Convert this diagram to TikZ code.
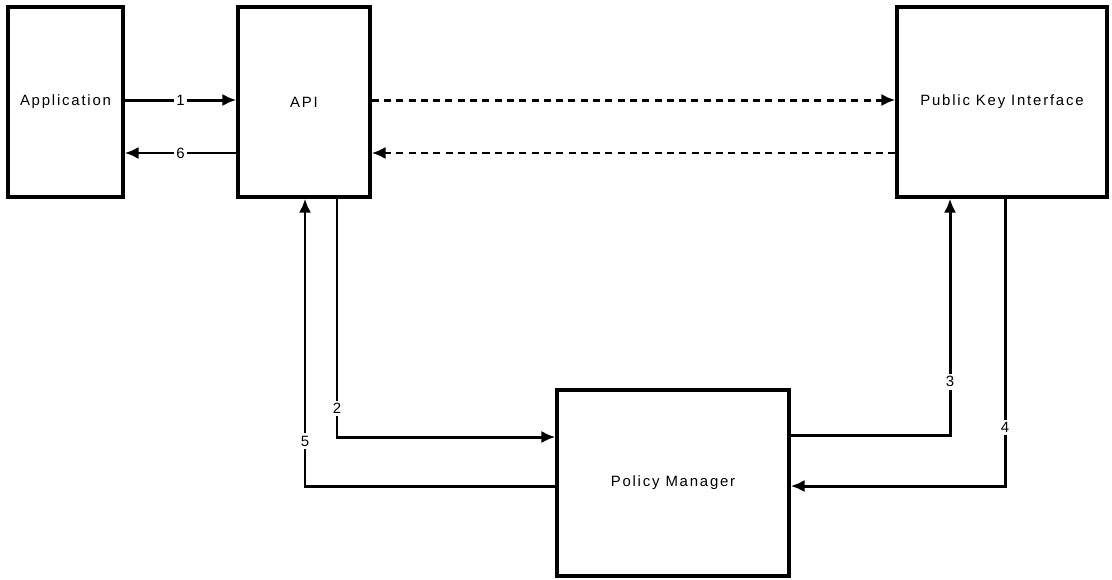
\documentclass[tikz,border=0pt]{standalone}
\usepackage{fontspec}
\setmainfont{Liberation Sans}
\newfontfamily\boxfont{Liberation Sans}[LetterSpace=12]
\usetikzlibrary{arrows.meta}
\tikzset{block/.style={draw, line width=1.9pt, fill=white,
                       font=\boxfont\fontsize{8.5}{10}\selectfont}}
\tikzset{step num/.style={fill=white, inner sep=1.5pt,
                          font=\fontsize{8.5}{10}\selectfont}}

\begin{document}
\begin{tikzpicture}[x=0.02cm, y=-0.02cm,
      >={Latex[length=8pt,width=7pt]},
      % styles for the connectors
      link/.style    ={->, line width=1.7pt},
      request/.style ={->, line width=1.7pt, dash pattern=on 4pt off 3pt}
    ]
    \useasboundingbox (0,0) rectangle (1112,579);

    % the four components
    \node[block, minimum width=2.30cm, minimum height=3.80cm] (app) at (65.5,102) {Application};
    \node[block, minimum width=2.64cm, minimum height=3.80cm] (api) at (304,102) {API};
    \node[block, minimum width=4.20cm, minimum height=3.80cm] (pki) at (1002,102) {Public Key Interface};
    \node[block, minimum width=4.64cm, minimum height=3.72cm] (pm)  at (673,483) {Policy Manager};

    % application <-> API
    \draw[link] ([yshift=0.04cm]app.east) -- node[step num] {1} ([yshift=0.04cm]api.west);
    \draw[link] ([yshift=-1.02cm]api.west) -- node[step num] {6} ([yshift=-1.02cm]app.east);

    % API <-> public key interface
    \draw[request] ([yshift=0.04cm]api.east) -- ([yshift=0.04cm]pki.west);
    \draw[request] ([yshift=-1.02cm]pki.west) -- ([yshift=-1.02cm]api.east);

    % API -> policy manager -> public key interface and back
    \draw[link] ([xshift=0.66cm]api.south) |- node[step num, pos=0.44] {2} ([yshift=0.92cm]pm.west);
    \draw[link] ([yshift=0.96cm]pm.east) -| node[step num, pos=0.613] {3} ([xshift=-1.04cm]pki.south);
    \draw[link] ([xshift=0.06cm]pki.south) |- node[step num, pos=0.398] {4} ([yshift=-0.06cm]pm.east);
    \draw[link] ([yshift=-0.06cm]pm.west) -| node[step num, pos=0.578] {5} ([xshift=0.02cm]api.south);
  \end{tikzpicture}
\end{document}
